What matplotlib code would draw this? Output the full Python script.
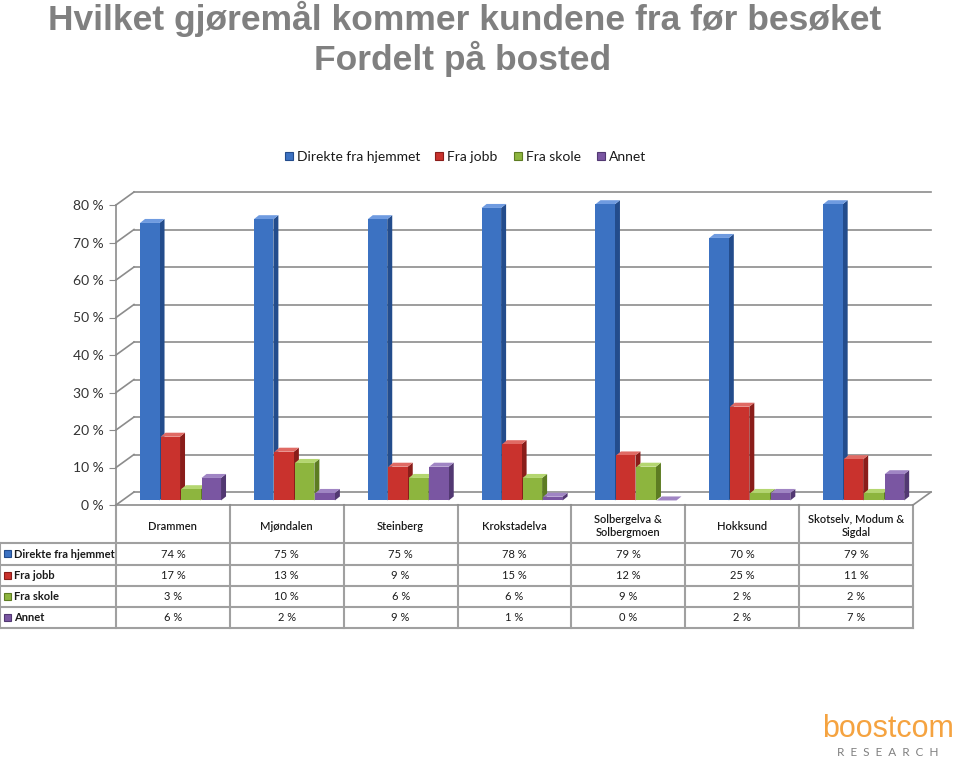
import matplotlib.pyplot as plt
from matplotlib.patches import Polygon, Rectangle

plt.rcParams['font.family'] = ['Lato', 'DejaVu Sans']

# data
places = ["Drammen", "Mjøndalen", "Steinberg", "Krokstadelva",
          "Solbergelva &\nSolbergmoen", "Hokksund", "Skotselv, Modum &\nSigdal"]
series = ["Direkte fra hjemmet", "Fra jobb", "Fra skole", "Annet"]
hjemmet = [74, 75, 75, 78, 79, 70, 79]
jobb = [17, 13, 9, 15, 12, 25, 11]
skole = [3, 10, 6, 6, 9, 2, 2]
annet = [6, 2, 9, 1, 0, 2, 7]
values = [hjemmet, jobb, skole, annet]
yticks = [0, 10, 20, 30, 40, 50, 60, 70, 80]

front = ["#3c72c2", "#c9322d", "#8db53e", "#7a56a2"]
side = ["#234c8c", "#8a1d1a", "#5d7c22", "#523872"]
top = ["#6f9be0", "#e06a64", "#b4d670", "#a085c4"]

W, H = 960, 760
fig = plt.figure(figsize=(W / 100, H / 100), dpi=100)

# chart area = front plane of the 3d box
x0, x1, yb, yt = 116, 913, 505, 205
ax = fig.add_axes([x0 / W, 1 - yb / H, (x1 - x0) / W, (yb - yt) / H])
ax.set_xlim(0, 7)
ax.set_ylim(0, 80)
n = len(places)
ux = (x1 - x0) / n          # px per category
uy = (yb - yt) / 80          # px per percent
ddx, ddy = 18 / ux, 13 / uy  # depth of the box in data units
gc = "#8c8c8c"

for v in yticks:
    ax.plot([0, ddx], [v, v + ddy], color=gc, lw=1.2, clip_on=False)
    ax.plot([ddx, 7 + ddx], [v + ddy, v + ddy], color=gc, lw=1.2, clip_on=False)
ax.plot([7, 7 + ddx], [0, ddy], color=gc, lw=1.2, clip_on=False)
ax.plot([0, 7], [0, 0], color=gc, lw=1.2, clip_on=False)
ax.plot([0, 0], [0, 80], color=gc, lw=1.2, clip_on=False)

# bars (slightly behind front plane)
mx, my = ddx * 0.45, ddy * 0.35
slot = 20.5 / ux
bw = 19.5 / ux
sdx, sdy = 5 / ux, 4 / uy
start = 0.5 - 2 * slot
for i in range(n):
    for s in range(4):
        v = values[s][i]
        bx = i + start + s * slot + mx
        by = my
        ax.add_patch(Polygon([(bx + bw, by), (bx + bw + sdx, by + sdy),
                              (bx + bw + sdx, by + v + sdy), (bx + bw, by + v)],
                             closed=True, fc=side[s], ec='none', clip_on=False, zorder=3))
        ax.add_patch(Polygon([(bx, by + v), (bx + bw, by + v),
                              (bx + bw + sdx, by + v + sdy), (bx + sdx, by + v + sdy)],
                             closed=True, fc=top[s], ec='none', clip_on=False, zorder=3))
        ax.add_patch(Rectangle((bx, by), bw, v, fc=front[s], ec='none',
                               clip_on=False, zorder=3))

ax.set_yticks(yticks)
ax.set_yticklabels([f"{v} %" for v in yticks], fontsize=10, color="#333333")
ax.set_xticks([])
ax.tick_params(axis='y', length=5, color=gc, pad=4)
for sp in ax.spines.values():
    sp.set_visible(False)
ax.patch.set_alpha(0)

# overlay in pixel coords for table, legend, titles
ov = fig.add_axes([0, 0, 1, 1], zorder=-1)
ov.set_xlim(0, W)
ov.set_ylim(H, 0)
ov.axis('off')

tc = "#a0a0a0"
rows = [505, 543, 565, 586, 607, 628]
cols = [x0 + ux * k for k in range(n + 1)]
for k, c in enumerate(cols):
    ov.plot([c, c], [rows[0], rows[-1]], color=tc, lw=1.5)
for r in rows[1:]:
    ov.plot([0, x1], [r, r], color=tc, lw=1.5)
ov.plot([0, 0], [rows[1], rows[-1]], color=tc, lw=1.5)

for i, p in enumerate(places):
    ov.text(cols[i] + ux / 2, (rows[0] + rows[1]) / 2 + 2, p, ha='center', va='center',
            fontsize=8, color="#1a1a1a", linespacing=1.25, fontweight='semibold')
for s in range(4):
    yc = (rows[s + 1] + rows[s + 2]) / 2
    ov.add_patch(Rectangle((4, yc - 4), 7, 7, fc=front[s], ec=side[s], lw=0.8))
    ov.text(14, yc, series[s], ha='left', va='center', fontsize=8,
            color="#1a1a1a", fontweight='bold')
    for i in range(n):
        ov.text(cols[i] + ux / 2, yc, f"{values[s][i]} %", ha='center', va='center',
                fontsize=8, color="#1a1a1a")

# legend
lx = [285, 435, 514, 597]
for s in range(4):
    ov.add_patch(Rectangle((lx[s], 152), 8, 8, fc=front[s], ec=side[s], lw=0.8))
    ov.text(lx[s] + 12, 157, series[s], ha='left', va='center', fontsize=10,
            color="#1a1a1a")

# titles
ov.text(465, 19, "Hvilket gjøremål kommer kundene fra før besøket", ha='center',
        va='center', fontsize=25.5, fontweight='bold', color="#808080",
        family='Liberation Sans')
ov.text(463, 59, "Fordelt på bosted", ha='center', va='center', fontsize=25.5,
        fontweight='bold', color="#808080", family='Liberation Sans')

# logo
ov.text(888, 729, "boostcom", ha='center', va='center', fontsize=22,
        color="#f5a340", family='Liberation Sans')
ov.text(888, 753, "R  E  S  E  A  R  C  H", ha='center', va='center', fontsize=8.5,
        color="#808080")

fig.savefig("out.png", dpi=100)
